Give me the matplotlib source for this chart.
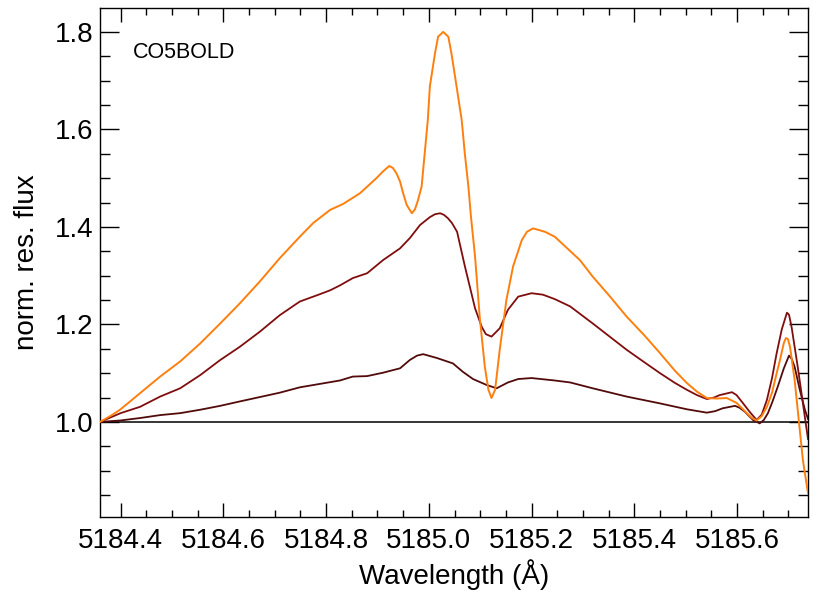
import matplotlib

matplotlib.use("Agg")
import matplotlib.pyplot as plt
from matplotlib.ticker import MultipleLocator

# values
wave_top = [
    5184.360, 5184.380, 5184.399, 5184.438, 5184.477, 5184.516, 5184.555, 5184.594,
    5184.632, 5184.671, 5184.710, 5184.749, 5184.775, 5184.808, 5184.833, 5184.866,
    5184.898, 5184.911, 5184.923, 5184.930, 5184.937, 5184.944, 5184.950, 5184.957,
    5184.967, 5184.973, 5184.979, 5184.986, 5184.992, 5184.998, 5185.002, 5185.012,
    5185.018, 5185.028, 5185.038, 5185.044, 5185.054, 5185.064, 5185.070, 5185.077,
    5185.082, 5185.090, 5185.099, 5185.109, 5185.116, 5185.122, 5185.129, 5185.138,
    5185.151, 5185.164, 5185.181, 5185.191, 5185.203, 5185.226, 5185.245, 5185.294,
    5185.319, 5185.352, 5185.385, 5185.420, 5185.450, 5185.479, 5185.502, 5185.522,
    5185.541, 5185.560, 5185.580, 5185.599, 5185.619, 5185.629, 5185.638, 5185.648,
    5185.658, 5185.668, 5185.677, 5185.683, 5185.691, 5185.695, 5185.699, 5185.703,
    5185.712, 5185.720, 5185.728, 5185.738,
]
flux_top = [
    1.000, 1.012, 1.025, 1.059, 1.093, 1.124, 1.161, 1.202,
    1.243, 1.288, 1.336, 1.380, 1.408, 1.435, 1.447, 1.469,
    1.500, 1.514, 1.525, 1.521, 1.510, 1.493, 1.469, 1.445,
    1.428, 1.436, 1.455, 1.483, 1.551, 1.619, 1.688, 1.756,
    1.790, 1.800, 1.790, 1.756, 1.688, 1.619, 1.551, 1.483,
    1.421, 1.339, 1.216, 1.113, 1.066, 1.049, 1.066, 1.148,
    1.250, 1.319, 1.373, 1.390, 1.397, 1.390, 1.380, 1.332,
    1.298, 1.258, 1.216, 1.177, 1.141, 1.105, 1.080, 1.062,
    1.049, 1.048, 1.049, 1.039, 1.018, 1.008, 1.003, 1.012,
    1.031, 1.060, 1.100, 1.125, 1.162, 1.172, 1.170, 1.154,
    1.086, 1.004, 0.922, 0.854,
]

wave_mid = [
    5184.360, 5184.400, 5184.438, 5184.477, 5184.516, 5184.555, 5184.594, 5184.632,
    5184.671, 5184.710, 5184.749, 5184.788, 5184.808, 5184.827, 5184.852, 5184.880,
    5184.911, 5184.944, 5184.963, 5184.983, 5185.002, 5185.012, 5185.022, 5185.029,
    5185.037, 5185.045, 5185.055, 5185.070, 5185.090, 5185.103, 5185.111, 5185.122,
    5185.138, 5185.154, 5185.174, 5185.200, 5185.222, 5185.245, 5185.275, 5185.319,
    5185.352, 5185.385, 5185.420, 5185.450, 5185.479, 5185.502, 5185.522, 5185.541,
    5185.555, 5185.566, 5185.590, 5185.599, 5185.611, 5185.625, 5185.638, 5185.648,
    5185.658, 5185.668, 5185.677, 5185.687, 5185.697, 5185.701, 5185.706, 5185.718,
    5185.728, 5185.738,
]
flux_mid = [
    1.000, 1.018, 1.031, 1.052, 1.069, 1.096, 1.127, 1.154,
    1.185, 1.219, 1.247, 1.262, 1.270, 1.280, 1.295, 1.305,
    1.332, 1.356, 1.377, 1.404, 1.420, 1.426, 1.428, 1.425,
    1.418, 1.408, 1.390, 1.320, 1.233, 1.195, 1.180, 1.175,
    1.192, 1.230, 1.257, 1.264, 1.261, 1.252, 1.237, 1.202,
    1.175, 1.148, 1.122, 1.100, 1.080, 1.066, 1.055, 1.047,
    1.050, 1.055, 1.061, 1.055, 1.039, 1.020, 1.004, 1.015,
    1.045, 1.090, 1.141, 1.190, 1.224, 1.220, 1.195, 1.113,
    1.039, 0.965,
]

wave_low = [
    5184.360, 5184.400, 5184.438, 5184.477, 5184.516, 5184.555, 5184.594, 5184.632,
    5184.671, 5184.710, 5184.749, 5184.788, 5184.827, 5184.852, 5184.880, 5184.911,
    5184.944, 5184.963, 5184.977, 5184.989, 5185.016, 5185.047, 5185.066, 5185.086,
    5185.112, 5185.132, 5185.154, 5185.174, 5185.200, 5185.245, 5185.275, 5185.319,
    5185.385, 5185.450, 5185.502, 5185.541, 5185.557, 5185.572, 5185.596, 5185.605,
    5185.615, 5185.631, 5185.644, 5185.652, 5185.660, 5185.669, 5185.679, 5185.691,
    5185.701, 5185.706, 5185.712, 5185.722, 5185.732, 5185.738,
]
flux_low = [
    1.000, 1.003, 1.008, 1.014, 1.018, 1.025, 1.033, 1.042,
    1.051, 1.060, 1.071, 1.078, 1.085, 1.093, 1.094, 1.101,
    1.110, 1.127, 1.136, 1.139, 1.131, 1.120, 1.103, 1.088,
    1.076, 1.069, 1.081, 1.088, 1.090, 1.085, 1.081, 1.069,
    1.052, 1.038, 1.026, 1.019, 1.022, 1.028, 1.033, 1.029,
    1.021, 1.004, 0.997, 1.004, 1.018, 1.042, 1.072, 1.110,
    1.136, 1.130, 1.113, 1.066, 1.025, 1.006,
]

label_text = "CO5BOLD"

plt.rcParams["font.family"] = ["Liberation Sans", "DejaVu Sans"]

fig = plt.figure(figsize=(8.13, 5.98), dpi=100)
ax = fig.add_axes([100 / 813, 81 / 598, 708 / 813, 509 / 598])

ax.axhline(1.0, color="black", linewidth=1.1, zorder=1)
ax.plot(wave_low, flux_low, color="#520a0a", linewidth=1.3, zorder=2)
ax.plot(wave_mid, flux_mid, color="#800d0d", linewidth=1.3, zorder=3)
ax.plot(wave_top, flux_top, color="#ff7f0e", linewidth=1.4, zorder=4)

ax.set_xlim(5184.36, 5185.738)
ax.set_ylim(0.805, 1.849)

ax.xaxis.set_major_locator(MultipleLocator(0.2))
ax.xaxis.set_minor_locator(MultipleLocator(0.05))
ax.yaxis.set_major_locator(MultipleLocator(0.2))
ax.yaxis.set_minor_locator(MultipleLocator(0.05))
ax.xaxis.set_major_formatter(plt.FormatStrFormatter("%.1f"))
ax.yaxis.set_major_formatter(plt.FormatStrFormatter("%.1f"))

ax.tick_params(which="both", direction="in", top=True, right=True, width=1.0, labelsize=20)
ax.tick_params(axis="x", which="major", length=10, pad=8)
ax.tick_params(axis="x", which="minor", length=5)
ax.tick_params(axis="y", which="major", length=14, pad=5)
ax.tick_params(axis="y", which="minor", length=7)
for spine in ax.spines.values():
    spine.set_linewidth(1.0)

ax.set_xlabel("Wavelength (Å)", fontsize=20)
ax.set_ylabel("norm. res. flux", fontsize=20)
ax.xaxis.set_label_coords(0.5, -0.083)
ax.yaxis.set_label_coords(-0.085, 0.5)

ax.text(0.0466, 0.9116, label_text, transform=ax.transAxes, fontsize=15.5, va="center", ha="left")

fig.savefig("out.png", dpi=100)
plt.close(fig)
